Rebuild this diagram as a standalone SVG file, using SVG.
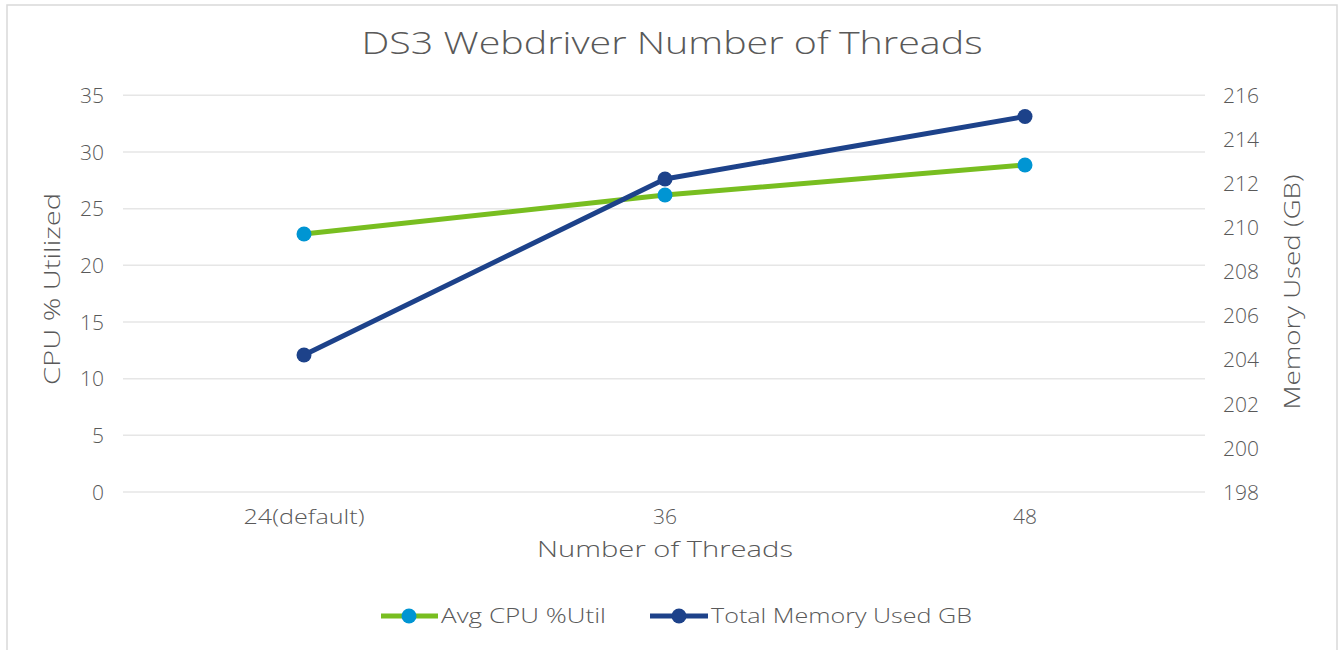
<svg xmlns="http://www.w3.org/2000/svg" width="1344" height="650" viewBox="0 0 1344 650">
<style>
text{font-family:"Open Sans","Liberation Sans",sans-serif;fill:#595959;font-weight:300}
.tick{font-size:21px}
.grid{stroke:#e6e6e6;stroke-width:1.5}
.cpu{stroke:#78be20;stroke-width:5;fill:none;stroke-linejoin:round}
.mem{stroke:#1d428a;stroke-width:5;fill:none;stroke-linejoin:round}
.cpuDot{fill:#0095d3}
.memDot{fill:#1d428a}
</style>
<rect x="0" y="0" width="1344" height="650" fill="#ffffff"/>
<rect x="7" y="5" width="1330" height="660" fill="#ffffff" stroke="#d9d9d9" stroke-width="1.5"/>
<g id="title"><text x="672" y="54" font-size="31" text-anchor="middle" textLength="621" lengthAdjust="spacingAndGlyphs">DS3 Webdriver Number of Threads</text></g>
<g id="gridlines">
<line class="grid" x1="123" y1="95.3" x2="1205" y2="95.3"/>
<line class="grid" x1="123" y1="152" x2="1205" y2="152"/>
<line class="grid" x1="123" y1="208.7" x2="1205" y2="208.7"/>
<line class="grid" x1="123" y1="265.3" x2="1205" y2="265.3"/>
<line class="grid" x1="123" y1="322" x2="1205" y2="322"/>
<line class="grid" x1="123" y1="378.7" x2="1205" y2="378.7"/>
<line class="grid" x1="123" y1="435.3" x2="1205" y2="435.3"/>
<line class="grid" x1="123" y1="492" x2="1205" y2="492"/>
</g>
<g id="left-axis" class="tick" text-anchor="end">
<text x="104" y="102.8">35</text>
<text x="104" y="159.5">30</text>
<text x="104" y="216.2">25</text>
<text x="104" y="272.8">20</text>
<text x="104" y="329.5">15</text>
<text x="104" y="386.2">10</text>
<text x="104" y="442.8">5</text>
<text x="104" y="499.5">0</text>
</g>
<g id="right-axis" class="tick" text-anchor="start">
<text x="1223" y="102.8">216</text>
<text x="1223" y="146.9">214</text>
<text x="1223" y="191">212</text>
<text x="1223" y="235.1">210</text>
<text x="1223" y="279.2">208</text>
<text x="1223" y="323.3">206</text>
<text x="1223" y="367.4">204</text>
<text x="1223" y="411.5">202</text>
<text x="1223" y="455.6">200</text>
<text x="1223" y="499.5">198</text>
</g>
<g id="x-axis" class="tick" text-anchor="middle">
<text x="304" y="524" textLength="121" lengthAdjust="spacingAndGlyphs">24(default)</text>
<text x="665" y="524">36</text>
<text x="1025" y="524">48</text>
</g>
<g id="axis-titles" font-size="22">
<text x="665" y="557" text-anchor="middle" font-size="22" textLength="256" lengthAdjust="spacingAndGlyphs">Number of Threads</text>
<text transform="translate(60,289) rotate(-90)" text-anchor="middle" font-size="22" textLength="192" lengthAdjust="spacingAndGlyphs">CPU % Utilized</text>
<text transform="translate(1300,292) rotate(-90)" text-anchor="middle" font-size="22" textLength="235" lengthAdjust="spacingAndGlyphs">Memory Used (GB)</text>
</g>
<g id="connectors">
<polyline class="cpu" points="304,234 665,195 1025,165"/>
<polyline class="mem" points="304,355 665,179 1025,116.5"/>
</g>
<g id="series-cpu">
<circle class="cpuDot" cx="304" cy="234" r="7.5"/>
<circle class="cpuDot" cx="665" cy="195" r="7.5"/>
<circle class="cpuDot" cx="1025" cy="165" r="7.5"/>
</g>
<g id="series-mem">
<circle class="memDot" cx="304" cy="355" r="7.5"/>
<circle class="memDot" cx="665" cy="179" r="7.5"/>
<circle class="memDot" cx="1025" cy="116.5" r="7.5"/>
</g>
<g id="legend">
<line class="cpu" x1="381" y1="616" x2="438" y2="616"/>
<circle class="cpuDot" cx="409" cy="616" r="7.5"/>
<text x="441" y="623" font-size="20" textLength="165" lengthAdjust="spacingAndGlyphs">Avg CPU %Util</text>
<line class="mem" x1="650" y1="616" x2="708" y2="616"/>
<circle class="memDot" cx="679" cy="616" r="7.5"/>
<text x="711" y="623" font-size="20" textLength="261" lengthAdjust="spacingAndGlyphs">Total Memory Used GB</text>
</g>
</svg>
